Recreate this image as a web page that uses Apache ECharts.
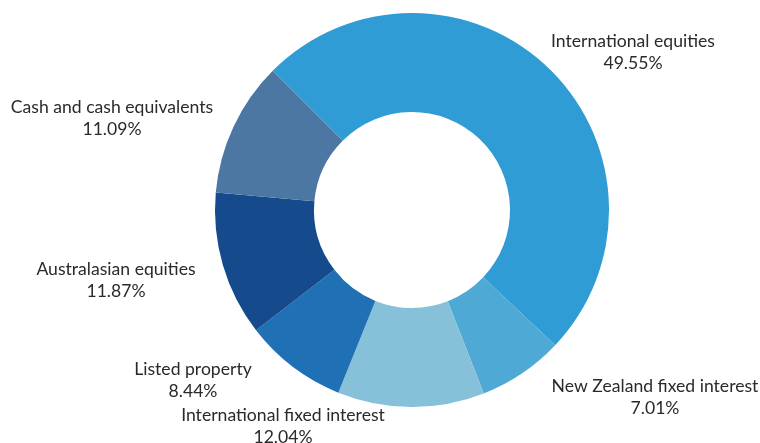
<!DOCTYPE html>
<html><head><meta charset="utf-8">
<script src="https://cdn.jsdelivr.net/npm/echarts@6/dist/echarts.min.js"></script>
<style>html,body{margin:0;padding:0;background:#fff}#c{width:760px;height:443px}</style>
</head><body><div id="c"></div>
<script>
const categories = ['International equities','New Zealand fixed interest','International fixed interest','Listed property','Australasian equities','Cash and cash equivalents'];
const values = [49.55, 7.01, 12.04, 8.44, 11.87, 11.09];
const colors = ['#2f9cd5','#4eaad4','#86c0d9','#2070b5','#154a8c','#4d77a3'];
const labelPos = [[633,52],[655,397],[283,426],[193,380],[116,280],[112,118]];

const chart = echarts.init(document.getElementById('c'), null, {renderer:'canvas'});
chart.setOption({
  animation:false,
  backgroundColor:'#fff',
  series:[{
    type:'pie',
    center:[412,210],
    radius:[98,197],
    startAngle:135,
    clockwise:true,
    avoidLabelOverlap:false,
    data: categories.map((n,i)=>({name:n,value:values[i],itemStyle:{color:colors[i]}})),
    label:{
      show:true,
      position:'outside',
      formatter:p=>p.name+'\n'+p.value.toFixed(2)+'%',
      fontFamily:'Lato',
      fontSize:17.6,
      lineHeight:22,
      color:'#2a2a2a',
      align:'center'
    },
    labelLine:{show:false},
    labelLayout:p=>({x:labelPos[p.dataIndex][0],y:labelPos[p.dataIndex][1],align:'center',verticalAlign:'middle'})
  }]
});
</script></body></html>
